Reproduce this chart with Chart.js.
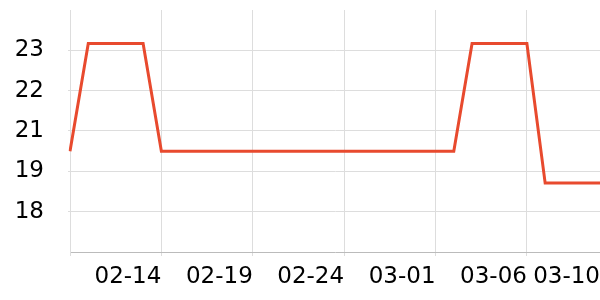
<!DOCTYPE html>
<html>
<head>
<meta charset="utf-8">
<script src="https://cdn.jsdelivr.net/npm/chart.js@4"></script>
<style>
    html, body { margin: 0; padding: 0; background: #ffffff; }
    #wrap { position: relative; width: 600px; height: 300px; }
</style>
</head>
<body>
<div id="wrap"><canvas id="grafica"></canvas></div>
<script>
// Fechas (eje X), una por día
const fechas = [
    '02-09', '02-10', '02-11', '02-12', '02-13', '02-14', '02-15', '02-16', '02-17', '02-18',
    '02-19', '02-20', '02-21', '02-22', '02-23', '02-24', '02-25', '02-26', '02-27', '02-28',
    '03-01', '03-02', '03-03', '03-04', '03-05', '03-06', '03-07', '03-08', '03-09', '03-10'
];

// Valores
const valores = [
    20.0, 23.2, 23.2, 23.2, 23.2, 20.0, 20.0, 20.0, 20.0, 20.0,
    20.0, 20.0, 20.0, 20.0, 20.0, 20.0, 20.0, 20.0, 20.0, 20.0,
    20.0, 20.0, 23.2, 23.2, 23.2, 23.2, 19.05, 19.05, 19.05, 19.05
];

// Marcas del eje X (la primera sin texto)
const xTicks = ['02-09', '02-14', '02-19', '02-24', '03-01', '03-06', '03-10'];

// Marcas del eje Y y sus etiquetas
const yTicks = [18.2, 19.4, 20.6, 21.8, 23.0];
const yTickLabels = ['18', '19', '21', '22', '23'];
const yMin = 17.0;
const yMax = 24.2;

const fuente = { family: 'DejaVu Sans', size: 23 };

new Chart(document.getElementById('grafica'), {
    type: 'line',
    data: {
        labels: fechas,
        datasets: [{
            data: valores,
            borderColor: '#e84a2e',
            borderWidth: 3,
            tension: 0,
            pointRadius: 0,
            fill: false
        }]
    },
    options: {
        responsive: true,
        maintainAspectRatio: false,
        animation: false,
        layout: { padding: { top: 10, right: 0, bottom: 0, left: 0 } },
        plugins: {
            legend: { display: false },
            tooltip: { enabled: false }
        },
        scales: {
            x: {
                grid: { color: '#dddddd', tickLength: 4 },
                border: { color: '#bbbbbb' },
                afterBuildTicks: scale => {
                    scale.ticks = xTicks.map(f => ({ value: fechas.indexOf(f) }));
                },
                afterFit: scale => {
                    scale.height = 48;
                    scale.paddingLeft = 0;
                    scale.paddingRight = 0;
                },
                ticks: {
                    autoSkip: false,
                    maxRotation: 0,
                    align: 'end',
                    padding: 7,
                    color: '#000000',
                    font: fuente,
                    callback: function(value, index) {
                        return index === 0 ? '' : this.getLabelForValue(value);
                    }
                }
            },
            y: {
                min: yMin,
                max: yMax,
                grid: { color: '#dddddd', tickLength: 2 },
                border: { color: '#dddddd' },
                afterBuildTicks: scale => {
                    scale.ticks = yTicks.map(v => ({ value: v }));
                },
                afterFit: scale => {
                    scale.width = 70;
                    scale.paddingTop = 0;
                    scale.paddingBottom = 0;
                },
                ticks: {
                    padding: 24,
                    color: '#000000',
                    font: fuente,
                    callback: (value, index) => yTickLabels[index]
                }
            }
        }
    }
});
</script>
</body>
</html>
